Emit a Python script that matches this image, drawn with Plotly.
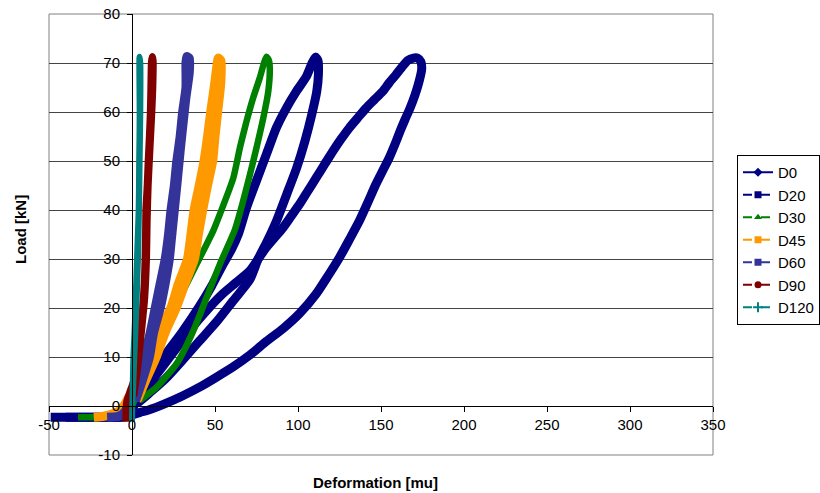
import plotly.graph_objects as go

# ---------------- data (deformation [mu], load [kN]) ----------------
series_names = ["D0", "D20", "D30", "D45", "D60", "D90", "D120"]

d0_x = [-49, -40, -30, -20, -10, -4, 0, 5, 10, 20, 30, 41, 50, 61, 71, 81, 91, 101, 111, 118,
        125, 131, 137, 142, 147, 151, 155, 158.5, 161.5, 164.5, 167.5, 170.5, 173, 174.5, 174,
        172, 169.5, 166, 162, 159, 155, 151, 146, 141, 136, 131, 126, 121, 116, 111, 106, 101,
        96, 91, 86, 81, 76, 71, 62, 55, 45, 35, 25, 15, 7, 2]
d0_y = [-2.3, -2.3, -2.3, -2.3, -2.3, -2.2, -1.8, -1.3, -0.8, 0.5, 2.0, 3.9, 5.7, 8.0, 10.4,
        13.2, 15.8, 18.9, 22.9, 26.5, 30.3, 34.0, 37.8, 41.5, 45.3, 48.0, 50.7, 53.5, 56.1, 58.5,
        60.8, 63.5, 66.3, 68.7, 70.3, 71.0, 71.0, 70.5, 68.9, 67.6, 66.0, 64.2, 62.5, 60.8, 58.8,
        56.8, 54.5, 52.0, 49.3, 46.6, 43.9, 41.2, 38.8, 36.4, 34.4, 32.4, 30.0, 27.6, 25.0, 23.0,
        19.5, 15.5, 11.0, 6.5, 3.0, 0.5]

d20_x = [-40, -20, -5, 0, 2, 5, 10, 20, 30, 40, 48, 55, 60, 64, 69, 75, 81, 87, 93, 99, 105,
         108.5, 110.5, 112, 112.3, 111.3, 108.3, 104.2, 99.2, 93.2, 87.1, 81, 76, 71, 61, 51,
         41, 30, 20, 10, 3]
d20_y = [-2.3, -2.3, -2.2, -1.0, 1, 3.5, 6, 10.5, 15, 20, 24.5, 29, 32, 35, 40.5, 46, 51.4,
         56.8, 60.8, 64.2, 67.2, 70, 71.2, 70.5, 67.7, 64.2, 59.5, 54.1, 48.6, 43.2, 37.8, 33.3,
         30, 25.8, 21.5, 17.2, 13.4, 9.2, 5.5, 2.5, 0.5]

d30_x = [-32.5, -20, -8, -2, 0, 2, 3.8, 10.8, 18.9, 28.9, 39, 49, 53, 61, 65, 69, 73, 77, 79.5,
         81, 82.5, 83, 82.1, 79.1, 75, 71.1, 67, 62, 53, 45, 37, 27, 15, 5]
d30_y = [-2.3, -2.3, -2.2, -1.5, 0, 1.5, 2.6, 8.7, 15.4, 22.2, 29, 35.8, 39.2, 46.5, 52.7, 58.1,
         62.9, 67, 70, 71.3, 70.5, 69, 64.2, 58.8, 52.7, 47.3, 41.9, 36, 29, 22.2, 15.4, 8.7,
         3.9, 1.2]

d45_x = [-23, -17, -11, -7, -4, -2, 0, 2, 5, 10.4, 16, 23.4, 28, 33.4, 35.5, 37.4, 40.5, 43.4,
         45.5, 47.4, 49.5, 51, 52, 53.5, 53.5, 51.6, 50, 48.6, 45.5, 42.6, 40, 37.6, 32, 26.6,
         20, 14.6, 8, 3]
d45_y = [-2.3, -2.1, -1.5, -0.8, 0.5, 1.8, 2.5, 3, 6, 10, 15, 20, 25, 30, 35, 40, 45, 50, 55,
         60, 65, 69, 71, 70.5, 66, 60, 55, 50, 45, 40, 35, 30, 25, 20, 15, 10, 5, 1]

d60_x = [-15, -8, -4, -2, 0, 1.5, 4, 7.5, 11, 14, 17, 20, 22, 23.5, 25.5, 27, 29, 30.5, 32.5,
         32.5, 33, 34.5, 34.5, 32.5, 31.5, 29, 27, 25.5, 24, 22.5, 20, 17, 13, 10.5, 6, 2]
d60_y = [-2.3, -2.1, -1, 0.5, 2, 3, 5, 10, 15, 20, 25, 30, 35, 40, 45, 50, 55, 60, 65, 70,
         71.3, 71, 68, 63, 60, 52, 45, 40, 35, 30, 25, 20, 15, 10, 5, 1]

d90_x = [-3.5, -3.5, -3, -1, 1, 3, 5, 6.5, 7.5, 8, 8.3, 8.5, 9.3, 9.9, 10.6, 11.2, 11.5, 11.8,
         12.2, 12.6, 12.4, 11.8, 10.6, 9.6, 9, 8.6, 7.5, 5.5, 3, 1]
d90_y = [-3.2, -1, 1, 3, 5, 10, 15, 20, 25, 30, 35, 40, 45, 50, 55, 60, 65, 70, 71.3, 70.5,
         65, 60, 52, 45, 38, 30, 22, 15, 7, 2]

d120_x = [0, 0.2, 0.5, 0.8, 1.5, 2, 2.5, 3, 3.5, 4, 4.2, 4.3, 4.5, 4.6, 4.5, 4.4, 4.5, 5, 5,
          4.6, 4.2, 3.6, 2.6, 1.4, 0.5]
d120_y = [-3.2, 0, 5, 10, 15, 20, 25, 30, 35, 40, 45, 50, 55, 60, 65, 70, 71.3, 70, 60, 50,
          40, 30, 20, 10, 2]

x_ticks = [-50, 0, 50, 100, 150, 200, 250, 300, 350]
x_tick_labels = ["-50", "0", "50", "100", "150", "200", "250", "300", "350"]
y_ticks = [-10, 0, 10, 20, 30, 40, 50, 60, 70, 80]
y_tick_labels = ["-10", "0", "10", "20", "30", "40", "50", "60", "70", "80"]

# ---------------- styles ----------------
xs = [d0_x, d20_x, d30_x, d45_x, d60_x, d90_x, d120_x]
ys = [d0_y, d20_y, d30_y, d45_y, d60_y, d90_y, d120_y]
colors = ["#000080", "#000080", "#008000", "#FF9900", "#333399", "#800000", "#008080"]
widths = [9, 9, 6.5, 9, 9, 7.5, 6]
symbols = ["diamond", "square", "triangle-up", "square", "square", "circle", "cross-thin"]
dashes = ["solid", "dash", "dash", "dash", "dash", "dash", "dash"]

FONT = "Liberation Sans, Arial, sans-serif"
fig = go.Figure()

for name, x, y, c, w in zip(series_names, xs, ys, colors, widths):
    fig.add_trace(go.Scatter(x=x, y=y, mode="lines", name=name, legendgroup=name,
                             showlegend=False, line=dict(color=c, width=w, shape="spline",
                                                         smoothing=0.6),
                             hoverinfo="skip"))

for name, c, s, d in zip(series_names, colors, symbols, dashes):
    fig.add_trace(go.Scatter(x=[None], y=[None], mode="lines+markers", name=name,
                             legendgroup=name, line=dict(color=c, width=2, dash=d),
                             marker=dict(symbol=s, size=7, color=c,
                                         line=dict(color=c, width=2 if s == "cross-thin" else 0))))

# plot area lands at x 49..713, y 14..455 (body margin removed below)
L, T = 49, 14
PW, PH = 664, 441
W, H = 820, 493

fig.update_layout(
    width=W, height=H,
    margin=dict(l=L, r=W - L - PW, t=T, b=H - T - PH, autoexpand=False),
    paper_bgcolor="white", plot_bgcolor="white",
    font=dict(family=FONT, size=15, color="black"),
    showlegend=True,
    legend=dict(x=(737 - 49) / PW, y=(455 - 155) / PH, xanchor="left", yanchor="top",
                bordercolor="black", borderwidth=1, bgcolor="white",
                font=dict(family=FONT, size=15), tracegroupgap=0,
                itemwidth=30),
    xaxis=dict(range=[-50, 350], tickvals=x_ticks, ticktext=x_tick_labels, showgrid=False,
               zeroline=False, showline=True, linecolor="black", linewidth=1,
               anchor="free", position=10 / 90, ticks="outside", ticklen=5,
               tickcolor="black", tickfont=dict(size=15), ticklabeloverflow="allow"),
    yaxis=dict(range=[-10, 80], tickvals=y_ticks, ticktext=y_tick_labels, showgrid=True,
               gridcolor="#444444", gridwidth=1, zeroline=False, showline=True,
               linecolor="black", linewidth=1,
               anchor="free", position=0.125, ticks="outside", ticklen=5,
               tickcolor="black", tickfont=dict(size=15), ticklabeloverflow="allow",
               ticklabelstandoff=4),
    shapes=[dict(type="rect", xref="paper", yref="paper", x0=0, x1=1, y0=0, y1=1,
                 line=dict(color="#808080", width=1), layer="below")],
    annotations=[
        dict(text="<b>Deformation [mu]</b>", xref="paper", yref="paper",
             x=(375 - 49) / PW, y=(455 - 482) / PH, xanchor="center", yanchor="middle",
             showarrow=False, font=dict(family=FONT, size=15)),
        dict(text="<b>Load [kN]</b>", xref="paper", yref="paper",
             x=(20 - 49) / PW, y=(455 - 230) / PH, xanchor="center", yanchor="middle",
             textangle=-90, showarrow=False, font=dict(family=FONT, size=15)),
    ],
)

fig.write_html("out.html", config={"displayModeBar": False},
               post_script="document.body.style.margin='0';document.body.style.overflow='hidden';")
